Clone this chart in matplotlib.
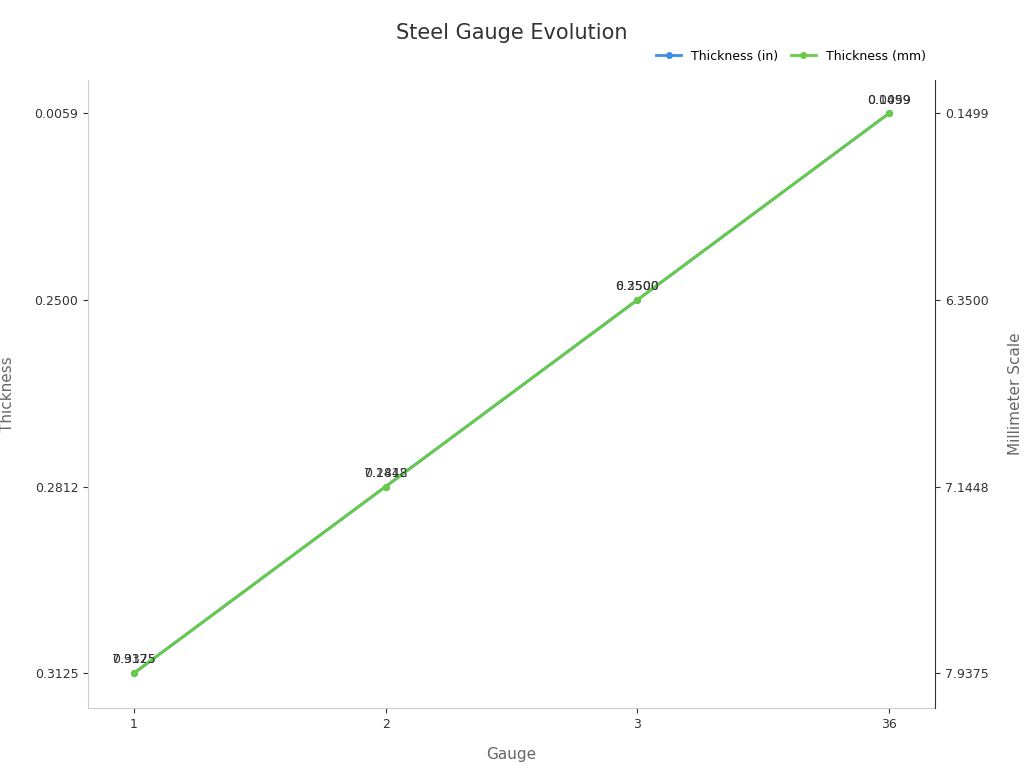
import matplotlib
matplotlib.use("Agg")
import matplotlib.pyplot as plt

gauges = ["1", "2", "3", "36"]
thick_in = ["0.3125", "0.2812", "0.2500", "0.0059"]
thick_mm = ["7.9375", "7.1448", "6.3500", "0.1499"]

fig = plt.figure(figsize=(10.24, 7.68), dpi=100)
ax = fig.add_axes([0.086, 0.078, 0.827, 0.818])
ax2 = ax.twinx()

xs = list(range(len(gauges)))
ys = list(range(len(thick_in)))

ax.plot(xs, ys, color="#3b8fe0", lw=2, marker="o", ms=4, label="Thickness (in)")
ax2.plot(xs, ys, color="#66cc44", lw=2, marker="o", ms=4, label="Thickness (mm)")
for x, y, a, b in zip(xs, ys, thick_in, thick_mm):
    ax.annotate(a, (x, y), xytext=(0, 7), textcoords="offset points", ha="center", fontsize=9, color="#333333")
    ax2.annotate(b, (x, y), xytext=(0, 7), textcoords="offset points", ha="center", fontsize=9, color="#333333")

for a in (ax, ax2):
    a.set_xlim(-0.183, 3.183)
    a.set_ylim(-0.188, 3.18)
ax.set_xticks(xs, gauges)
ax.set_yticks(ys, thick_in)
ax2.set_yticks(ys, thick_mm)

for s in ["top", "right"]:
    ax.spines[s].set_visible(False)
ax.spines["left"].set_color("#cccccc")
ax.spines["bottom"].set_color("#cccccc")
ax2.spines["top"].set_visible(False)
ax2.spines["left"].set_visible(False)
ax2.spines["bottom"].set_visible(False)
ax2.spines["right"].set_color("#333333")
ax.tick_params(colors="#333333", labelsize=9)
ax2.tick_params(colors="#333333", labelsize=9)

ax.set_xlabel("Gauge", color="#666666", fontsize=11, labelpad=12)
ax.set_ylabel("Thickness", color="#666666", fontsize=11, labelpad=14)
ax2.set_ylabel("Millimeter Scale", color="#666666", fontsize=11, labelpad=14)

fig.suptitle("Steel Gauge Evolution", y=0.97, fontsize=15, color="#333333")
h1, l1 = ax.get_legend_handles_labels()
h2, l2 = ax2.get_legend_handles_labels()
fig.legend(h1 + h2, l1 + l2, loc="upper right", bbox_to_anchor=(0.915, 0.95), ncol=2,
           frameon=False, fontsize=9, handlelength=2, columnspacing=1)

fig.savefig("out.png", dpi=100)
